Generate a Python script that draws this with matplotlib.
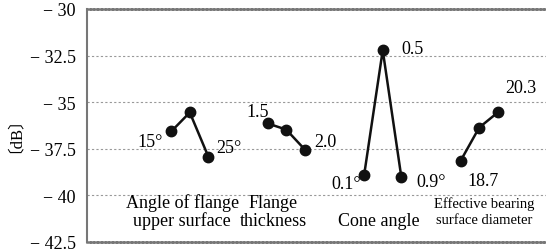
import matplotlib
matplotlib.use("Agg")
import matplotlib.pyplot as plt

# factor names and S/N values for each level [dB]
factors = ["Angle of flange\nupper surface", "Flange\nthickness", "Cone angle",
           "Effective bearing\nsurface diameter"]
angle_vals = [-36.57, -35.55, -37.92]
thick_vals = [-36.14, -36.47, -37.54]
cone_vals = [-38.89, -32.21, -39.00]
diam_vals = [-38.14, -36.36, -35.55]
groups = [angle_vals, thick_vals, cone_vals, diam_vals]

yticks = [-30, -32.5, -35, -37.5, -40, -42.5]
ytick_labels = ["− 30", "− 32.5", "− 35", "− 37.5", "− 40", "− 42.5"]

plt.rcParams['font.family'] = ['Liberation Serif', 'Noto Sans CJK JP']

fig = plt.figure(figsize=(5.46, 2.53), dpi=100)
ax = fig.add_axes([87 / 546, 10 / 253, 459 / 546, 233 / 253])

step = 5.2
for g, vals in enumerate(groups):
    xs = [g * step + i for i in range(len(vals))]
    ax.plot(xs, vals, color="#111111", lw=1.8, marker="o", ms=7.5, zorder=3)

# level labels
fs = 13
ax.text(-0.45, -37.1, "15°", fontsize=fs, ha="right", va="center")
ax.text(2.45, -37.45, "25°", fontsize=fs, ha="left", va="center")
ax.text(5.25, -35.5, "1.5", fontsize=fs, ha="right", va="center")
ax.text(7.7, -37.1, "2.0", fontsize=fs, ha="left", va="center")
ax.text(10.25, -39.37, "0.1°", fontsize=fs, ha="right", va="center")
ax.text(12.4, -32.1, "0.5", fontsize=fs, ha="left", va="center")
ax.text(13.2, -39.27, "0.9°", fontsize=fs, ha="left", va="center")
ax.text(16.8, -39.21, "18.7", fontsize=fs, ha="center", va="center")
ax.text(18.87, -34.2, "20.3", fontsize=fs, ha="center", va="center")

# factor names
ax.text(0.6, -40.85, factors[0], fontsize=fs, ha="center", va="center", linespacing=1.05)
ax.text(5.5, -40.85, factors[1], fontsize=fs, ha="center", va="center", linespacing=1.05)
ax.text(11.2, -41.37, factors[2], fontsize=fs, ha="center", va="center")
ax.text(16.85, -40.85, factors[3], fontsize=10.5, ha="center", va="center", linespacing=1.3)

ax.set_xlim(-4.54, 20.2)
ax.set_ylim(-42.5, -30)
ax.set_xticks([])
ax.set_yticks(yticks)
ax.set_yticklabels(ytick_labels, fontsize=fs)
ax.tick_params(axis="y", length=0, pad=8)
for y in yticks[1:-1]:
    ax.axhline(y, color="#999999", lw=0.8, ls=(0, (2, 2)), zorder=1)

ax.spines["right"].set_visible(False)
ax.spines["left"].set_color("#777777")
ax.spines["left"].set_linewidth(1.5)
for s in ["top", "bottom"]:
    ax.spines[s].set_color("#777777")
    ax.spines[s].set_linewidth(1.8)
    ax.spines[s].set_linestyle((0, (1, 0.5)))

ax.set_ylabel("〔dB〕", fontsize=12, labelpad=11)

fig.savefig("out.png", dpi=100)
